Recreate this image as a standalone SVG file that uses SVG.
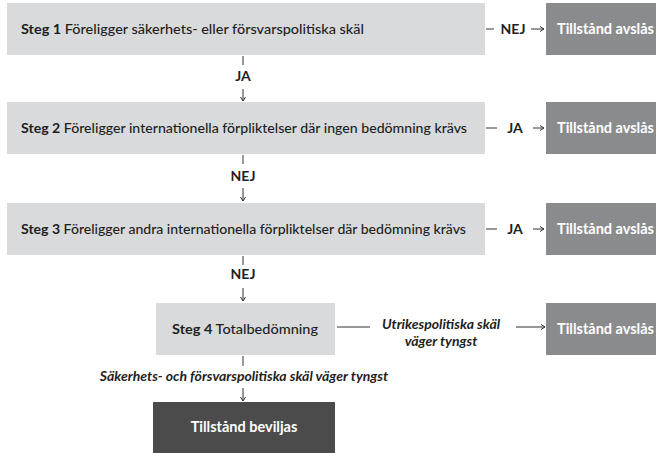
<svg xmlns="http://www.w3.org/2000/svg" width="656" height="453" viewBox="0 0 656 453">
<style>
.box{fill:#d9dadb}
.rej{fill:#8a8b8d}
.ok{fill:#4b4b4c}
.t{font-family:Lato,"Open Sans","Liberation Sans",sans-serif;font-size:14px;fill:#1e1e1e;font-weight:500}
.b{font-weight:700}
.w{font-family:Lato,"Open Sans","Liberation Sans",sans-serif;font-size:14.5px;fill:#ffffff;font-weight:700}
.lab{font-family:Lato,"Open Sans","Liberation Sans",sans-serif;font-size:14px;fill:#1e1e1e;font-weight:700;text-anchor:middle}
.it{font-family:Lato,"Open Sans","Liberation Sans",sans-serif;font-size:14px;fill:#1e1e1e;font-weight:700;font-style:italic;text-anchor:middle}
.c{stroke:#333;stroke-width:1;fill:none}
</style>
<defs>
<marker id="ah" markerWidth="6" markerHeight="6" refX="5" refY="3" orient="auto" markerUnits="userSpaceOnUse">
<path d="M1,0.5 L5,3 L1,5.5" fill="none" stroke="#333" stroke-width="1"/>
</marker>
</defs>

<g id="step1">
<rect class="box" x="7" y="3" width="478" height="52"/>
<text class="t" x="21" y="34" textLength="343" lengthAdjust="spacingAndGlyphs"><tspan class="b">Steg 1</tspan> Föreligger säkerhets- eller försvarspolitiska skäl</text>
</g>
<g id="step2">
<rect class="box" x="7" y="102" width="478" height="52"/>
<text class="t" x="21" y="133" textLength="446" lengthAdjust="spacingAndGlyphs"><tspan class="b">Steg 2</tspan> Föreligger internationella förpliktelser där ingen bedömning krävs</text>
</g>
<g id="step3">
<rect class="box" x="7" y="203" width="478" height="52"/>
<text class="t" x="21" y="234" textLength="445" lengthAdjust="spacingAndGlyphs"><tspan class="b">Steg 3</tspan> Föreligger andra internationella förpliktelser där bedömning krävs</text>
</g>
<g id="step4">
<rect class="box" x="156" y="303" width="179" height="52"/>
<text class="t" x="172" y="334" textLength="146" lengthAdjust="spacingAndGlyphs"><tspan class="b">Steg 4</tspan> Totalbedömning</text>
</g>
<g id="avslas1">
<rect class="rej" x="546" y="3" width="110" height="52"/>
<text class="w" x="557" y="34">Tillstånd avslås</text>
</g>
<g id="avslas2">
<rect class="rej" x="546" y="102" width="110" height="52"/>
<text class="w" x="557" y="133">Tillstånd avslås</text>
</g>
<g id="avslas3">
<rect class="rej" x="546" y="203" width="110" height="52"/>
<text class="w" x="557" y="234">Tillstånd avslås</text>
</g>
<g id="avslas4">
<rect class="rej" x="546" y="303" width="110" height="52"/>
<text class="w" x="557" y="334">Tillstånd avslås</text>
</g>
<g id="beviljas">
<rect class="ok" x="153" y="402" width="182" height="51"/>
<text class="w" x="244" y="432" text-anchor="middle">Tillstånd beviljas</text>
</g>

<g id="connectors">
<line class="c" x1="243" y1="56" x2="243" y2="65"/>
<line class="c" x1="243" y1="89" x2="243" y2="101" marker-end="url(#ah)"/>
<text class="lab" x="243" y="81">JA</text>

<line class="c" x1="243" y1="155" x2="243" y2="164"/>
<line class="c" x1="243" y1="188" x2="243" y2="201" marker-end="url(#ah)"/>
<text class="lab" x="243" y="181">NEJ</text>

<line class="c" x1="243" y1="256" x2="243" y2="265"/>
<line class="c" x1="243" y1="288" x2="243" y2="301" marker-end="url(#ah)"/>
<text class="lab" x="243" y="279">NEJ</text>

<line class="c" x1="243" y1="356" x2="243" y2="366"/>
<line class="c" x1="243" y1="388" x2="243" y2="401" marker-end="url(#ah)"/>
<text class="it" x="244" y="381">Säkerhets- och försvarspolitiska skäl väger tyngst</text>

<line class="c" x1="486" y1="29" x2="494" y2="29"/>
<text class="lab" x="513" y="34">NEJ</text>
<line class="c" x1="531" y1="29" x2="544" y2="29" marker-end="url(#ah)"/>

<line class="c" x1="486" y1="128" x2="497" y2="128"/>
<text class="lab" x="515" y="133">JA</text>
<line class="c" x1="533" y1="128" x2="544" y2="128" marker-end="url(#ah)"/>

<line class="c" x1="486" y1="229" x2="497" y2="229"/>
<text class="lab" x="515" y="234">JA</text>
<line class="c" x1="533" y1="229" x2="544" y2="229" marker-end="url(#ah)"/>

<line class="c" x1="337" y1="327" x2="370" y2="327"/>
<text class="it" x="441" y="329">Utrikespolitiska skäl</text>
<text class="it" x="441" y="346">väger tyngst</text>
<line class="c" x1="516" y1="327" x2="545" y2="327" marker-end="url(#ah)"/>
</g>
</svg>
